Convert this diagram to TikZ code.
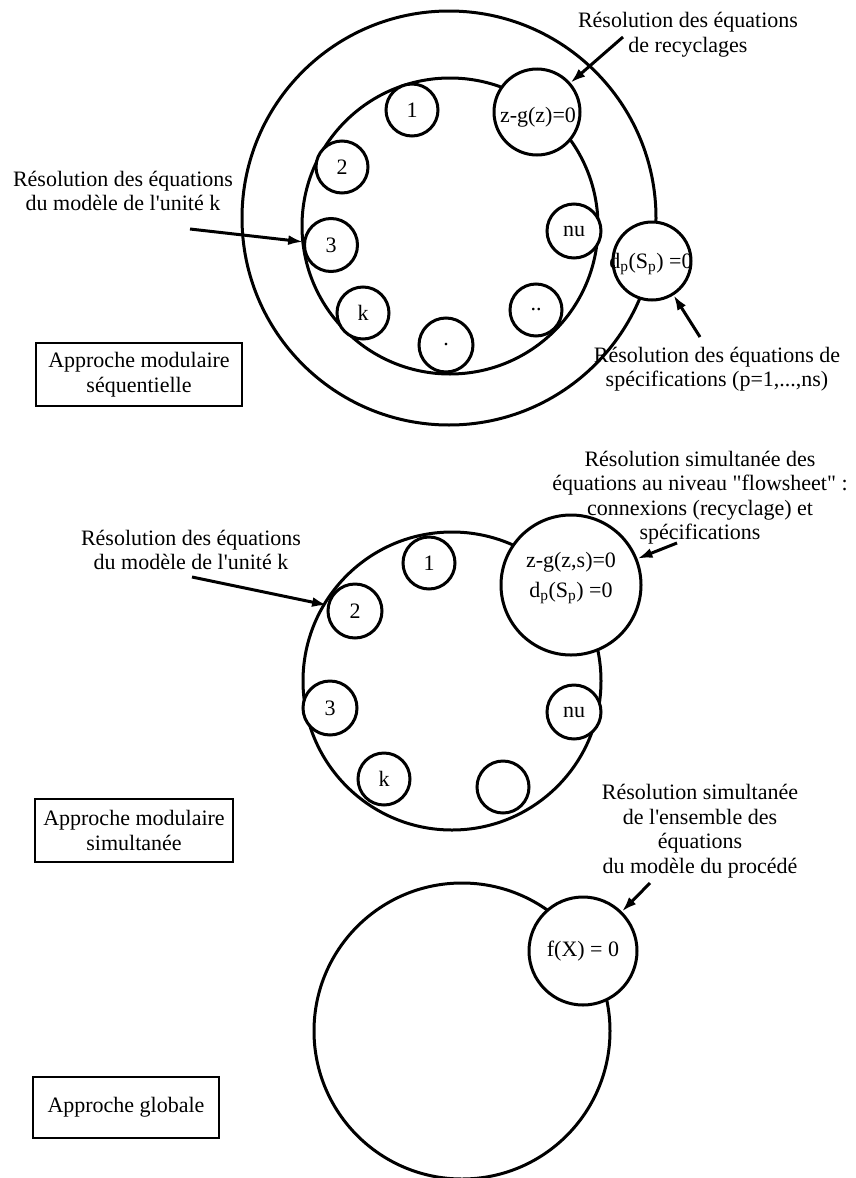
\documentclass[tikz,border=0pt]{standalone}
\usepackage{fontspec}
\setmainfont{Liberation Serif}
\usetikzlibrary{arrows.meta}
\tikzset{
  every node/.style={font=\fontsize{22}{24.5}\selectfont},
  ring/.style={circle,draw,line width=3pt,inner sep=0pt,minimum size=#1},
  unit/.style={circle,draw,fill=white,line width=3pt,inner sep=0pt,minimum size=#1},
  lbl/.style={align=center,inner sep=0pt},
  boxlbl/.style n args={2}{draw,line width=2.2pt,align=center,inner sep=0pt,minimum width=#1,minimum height=#2},
  pointer/.style={line width=3pt,-{Latex[length=15pt,width=10pt]}}
}
\begin{document}
\begin{tikzpicture}[x=1pt,y=-1pt]
\useasboundingbox (0,0) rectangle (855,1178);

% ---------- sequential modular approach ----------
\node[ring=414pt] (O) at (449,218) {};
\node[ring=296pt] (I) at (450,226) {};
\node[unit=52pt] (t1) at (412,110) {1};
\node[unit=52pt] (t2) at (342,167) {2};
\node[unit=53pt] (t3) at (331,245) {3};
\node[unit=52pt] (tk) at (363,313) {k};
\node[unit=54pt] (tdot) at (446,345) {.};
\node[unit=52pt] (tdd) at (536,310) {..};
\node[unit=54pt] (tnu) at (574,231) {nu};
\node[unit=86pt] (zg) at (537,112) {};
\node[lbl] (zgt) at (538,117) {z-g(z)=0};
\node[unit=78pt] (dp) at (652,261) {};
\node[lbl] (dpt) at (651,264) {d\textsubscript{p}(S\textsubscript{p}) =0};

\node[lbl] (n1) at (688,34.5) {Résolution des équations\\de recyclages};
\coordinate (a1) at (623,37);
\draw[pointer] (a1) -- (zg);

\node[lbl] (n2) at (717,369) {Résolution des équations de\\spécifications (p=1,...,ns)};
\coordinate (a2) at (700,337);
\draw[pointer] (a2) -- (dp);

\node[lbl] (n3) at (123,191) {Résolution des équations\\du modèle de l\textquotesingle unité k};
\coordinate (a3) at (190,229);
\draw[pointer] (a3) -- (t3);

\node[boxlbl={206pt}{63pt}] (b1) at (139,374.5) {Approche modulaire\\séquentielle};

% ---------- simultaneous modular approach ----------
\node[ring=298pt] (M) at (452,681) {};
\node[unit=52pt] (m1) at (429,563) {1};
\node[unit=54pt] (m2) at (355,611) {2};
\node[unit=54pt] (m3) at (330,708) {3};
\node[unit=52pt] (mk) at (384,779) {k};
\node[unit=52pt] (me) at (503,787) {};
\node[unit=54pt] (mnu) at (574,712) {nu};
\node[unit=140pt] (zg2) at (571,585) {};
\node[lbl] (zg2t) at (571,578) {z-g(z,s)=0\\[6pt]d\textsubscript{p}(S\textsubscript{p}) =0};

\node[lbl] (n4) at (700,497.5) {Résolution simultanée des\\équations au niveau \textquotedbl flowsheet\textquotedbl\ :\\connexions (recyclage) et\\spécifications};
\coordinate (a4) at (677,543);
\draw[pointer] (a4) -- (zg2);

\node[lbl] (n5) at (191,550) {Résolution des équations\\du modèle de l\textquotesingle unité k};
\coordinate (a5) at (192,577);
\draw[pointer] (a5) -- (m2);

\node[boxlbl={198pt}{63pt}] (b2) at (134,830.5) {Approche modulaire\\simultanée};

% ---------- global approach ----------
\node[ring=296pt] (G) at (462,1031) {};
\node[unit=108pt] (fx) at (583,951) {f(X) = 0};

\node[lbl] (n6) at (700,831) {Résolution simultanée\\de l\textquotesingle ensemble des\\équations\\du modèle du procédé};
\coordinate (a6) at (650,883);
\draw[pointer] (a6) -- (fx);

\node[boxlbl={186pt}{61pt}] (b3) at (126,1107.5) {Approche globale};
\end{tikzpicture}
\end{document}
